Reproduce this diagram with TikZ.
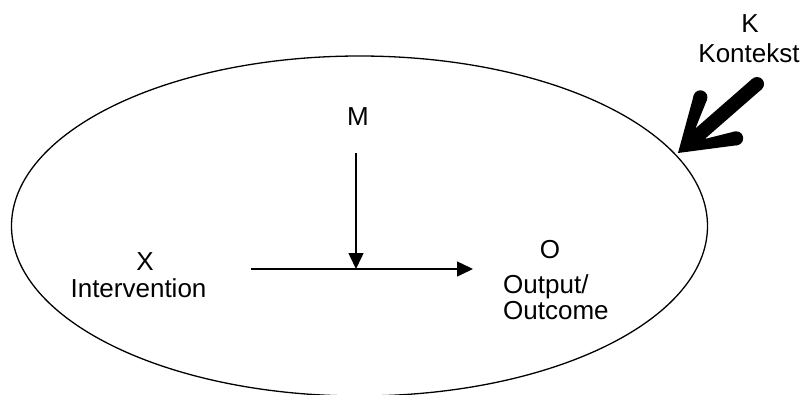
\documentclass[tikz,border=0pt]{standalone}
\usepackage{fontspec}
\setmainfont{Liberation Sans}
\usetikzlibrary{arrows.meta,shapes.geometric}
\begin{document}
\begin{tikzpicture}[x=1pt,y=-1pt,
  lbl/.style={inner sep=0pt, font=\fontsize{26}{30}\selectfont},
  arr/.style={line width=1.5pt, -{Triangle[length=16pt,width=15pt]}},
  ctx/.style={draw, line width=1.3pt, ellipse, inner sep=0pt, minimum width=696pt, minimum height=340pt}]
\useasboundingbox (0,0) rectangle (803,394);
\node[ctx] (ell) at (359.5,226) {};
% labels
\node[lbl, anchor=base] (K) at (750,32) {K};
\node[lbl, anchor=base] (Kt) at (749,62) {Kontekst};
\node[lbl, anchor=base] (M) at (358,125) {M};
\node[lbl, anchor=base] (X) at (145,270) {X};
\node[lbl, anchor=base] (Xt) at (138.5,297) {Intervention};
\node[lbl, anchor=base] (O) at (550,258) {O};
\node[lbl, anchor=base west] (Ot1) at (503,293) {Output/};
\node[lbl, anchor=base west] (Ot2) at (503,319) {Outcome};
% connectors
\coordinate (xa) at (251,269);
\coordinate (oa) at (473,269);
\coordinate (mtop) at (356,153);
\coordinate (mbot) at (356,269);
\draw[arr] (xa) -- (oa);
\draw[arr] (mtop) -- (mbot);
% thick context arrow
\fill (678,153) -- (693.9,94.7) -- (706.9,99.9) -- (695.4,128.5) -- (752.4,78.7)
  -- (761.6,89.3) -- (704.7,139.0) -- (734.5,131.5) -- (737.9,145.1) -- cycle;
\fill (700.4,97.3) circle[radius=7pt];
\fill (736.2,138.3) circle[radius=7pt];
\fill (757,84) circle[radius=7pt];
\end{tikzpicture}
\end{document}
